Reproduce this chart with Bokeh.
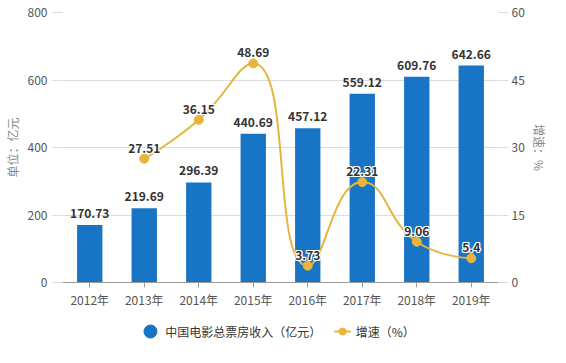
import math
from bokeh.plotting import figure
from bokeh.layouts import column
from bokeh.models import Range1d, LinearAxis, FixedTicker, ColumnDataSource
from bokeh.embed import file_html
from bokeh.resources import INLINE
from bokeh.core.properties import value

years = ["2012年", "2013年", "2014年", "2015年", "2016年", "2017年", "2018年", "2019年"]
box_office = [170.73, 219.69, 296.39, 440.69, 457.12, 559.12, 609.76, 642.66]
growth_years = [1, 2, 3, 4, 5, 6, 7]
growth = [27.51, 36.15, 48.69, 3.73, 22.31, 9.06, 5.4]
left_ticks = [0, 200, 400, 600, 800]
right_ticks = [0, 15, 30, 45, 60]
legend_labels = ["中国电影总票房收入（亿元）", "增速（%）"]

FONT = "Noto Sans CJK SC"
BAR = "#1874c4"
GOLD = "#e8b53c"

W = 550
BL, BR, BT, BB = 62, 42, 12, 26
H1 = 310
FW = W - BL - BR
FH = H1 - BT - BB

p = figure(width=W, height=H1, output_backend="svg", toolbar_location=None,
           x_range=Range1d(-0.5, 7.5), y_range=Range1d(0, 800),
           min_border_left=BL, min_border_right=BR, min_border_top=BT, min_border_bottom=BB)
p.outline_line_color = None
p.background_fill_color = "white"
p.border_fill_color = "white"
p.extra_y_ranges = {"pct": Range1d(0, 60)}

# axes
p.xaxis.ticker = FixedTicker(ticks=list(range(len(years))))
p.xaxis.major_label_overrides = {i: y for i, y in enumerate(years)}
p.xaxis.axis_line_color = "#9a9a9a"
p.xaxis.major_tick_line_color = "#9a9a9a"
p.xaxis.major_tick_out = 5
p.xaxis.major_tick_in = 0
p.xaxis.minor_tick_line_color = None
p.xaxis.major_label_standoff = 3
p.xaxis.major_label_text_font = FONT
p.xaxis.major_label_text_font_size = "12px"
p.xaxis.major_label_text_color = "#555555"
p.xgrid.grid_line_color = None

p.yaxis.ticker = FixedTicker(ticks=left_ticks)
p.yaxis.axis_line_color = None
p.yaxis.major_tick_line_color = "#dcdcdc"
p.yaxis.major_tick_out = 10
p.yaxis.major_tick_in = 0
p.yaxis.minor_tick_line_color = None
p.yaxis.major_label_standoff = 5
p.yaxis.major_label_text_font = FONT
p.yaxis.major_label_text_font_size = "12px"
p.yaxis.major_label_text_color = "#555555"
p.yaxis.axis_label = "单位：亿元"
p.yaxis.axis_label_text_font = FONT
p.yaxis.axis_label_text_font_size = "12px"
p.yaxis.axis_label_text_font_style = "normal"
p.yaxis.axis_label_text_color = "#8a8a8a"
p.yaxis.axis_label_standoff = 4
p.ygrid.ticker = FixedTicker(ticks=left_ticks)
p.ygrid.grid_line_color = "#dcdcdc"

ra = LinearAxis(y_range_name="pct", ticker=FixedTicker(ticks=right_ticks))
ra.axis_line_color = None
ra.major_tick_line_color = "#dcdcdc"
ra.major_tick_out = 10
ra.major_tick_in = 0
ra.minor_tick_line_color = None
ra.major_label_standoff = 3
ra.major_label_text_font = FONT
ra.major_label_text_font_size = "12px"
ra.major_label_text_color = "#555555"
ra.axis_label = "增速：%"
ra.axis_label_text_font = FONT
ra.axis_label_text_font_size = "12px"
ra.axis_label_text_font_style = "normal"
ra.axis_label_text_color = "#8a8a8a"
ra.axis_label_standoff = 3
p.add_layout(ra, "right")

# bars
xs = list(range(len(years)))
p.vbar(x=xs, top=box_office, width=0.465, color=BAR, line_color=None)
p.text(x=xs, y=box_office, text=[f"{v:.2f}" for v in box_office],
       text_font=value(FONT), text_font_size="12px", text_font_style="bold",
       text_color="#333333", text_align="center", text_baseline="bottom", y_offset=-7)

# smooth line (echarts-like smoothing, computed in pixel space)
sx = FW / 8.0
sy = FH / 60.0
pts = [(x * sx, y * sy) for x, y in zip(growth_years, growth)]
smooth = 0.5
n = len(pts)
segs = []
cp0 = pts[0]
for i in range(1, n):
    x, y = pts[i]
    px, py = pts[i - 1]
    if i == n - 1:
        cp1 = (x, y)
        nxt_cp0 = (x, y)
    else:
        nx, ny = pts[i + 1]
        vx, vy = nx - px, ny - py
        lp = math.hypot(x - px, y - py)
        ln = math.hypot(nx - x, ny - y)
        r = ln / (ln + lp)
        ncx = x + vx * smooth * r
        ncy = y + vy * smooth * r
        ncx = min(ncx, max(nx, x)); ncx = max(ncx, min(nx, x))
        ncy = min(ncy, max(ny, y)); ncy = max(ncy, min(ny, y))
        vx, vy = ncx - x, ncy - y
        c1x = x - vx * lp / ln
        c1y = y - vy * lp / ln
        c1x = min(c1x, max(px, x)); c1x = max(c1x, min(px, x))
        c1y = min(c1y, max(py, y)); c1y = max(c1y, min(py, y))
        vx, vy = x - c1x, y - c1y
        ncx = x + vx * ln / lp
        ncy = y + vy * ln / lp
        cp1 = (c1x, c1y)
        nxt_cp0 = (ncx, ncy)
    segs.append((pts[i - 1], cp0, cp1, pts[i]))
    cp0 = nxt_cp0

bsrc = ColumnDataSource(dict(
    x0=[s[0][0] / sx for s in segs], y0=[s[0][1] / sy for s in segs],
    cx0=[s[1][0] / sx for s in segs], cy0=[s[1][1] / sy for s in segs],
    cx1=[s[2][0] / sx for s in segs], cy1=[s[2][1] / sy for s in segs],
    x1=[s[3][0] / sx for s in segs], y1=[s[3][1] / sy for s in segs]))
p.bezier(x0="x0", y0="y0", x1="x1", y1="y1", cx0="cx0", cy0="cy0", cx1="cx1", cy1="cy1",
         source=bsrc, line_color=GOLD, line_width=2, y_range_name="pct")
p.scatter(x=growth_years, y=growth, size=9, color=GOLD, y_range_name="pct")

glabels = [f"{v:g}" for v in growth]
for dx, dy in [(-1, 0), (1, 0), (0, -1), (0, 1), (-1, -1), (1, 1), (-1, 1), (1, -1)]:
    p.text(x=growth_years, y=growth, text=glabels,
           text_font=value(FONT), text_font_size="12px", text_font_style="bold",
           text_color="white", text_align="center", text_baseline="bottom",
           x_offset=dx, y_offset=-6 + dy, y_range_name="pct")
p.text(x=growth_years, y=growth, text=glabels,
       text_font=value(FONT), text_font_size="12px", text_font_style="bold",
       text_color="#333333", text_align="center", text_baseline="bottom", y_offset=-6,
       y_range_name="pct")

# legend strip below the chart; its frame is aligned with the chart frame,
# so the x range is expressed in canvas pixels of that frame
H2 = 37
q = figure(width=W, height=H2, output_backend="svg", toolbar_location=None,
           x_range=Range1d(BL, BL + FW), y_range=Range1d(0, H2),
           x_axis_type=None, y_axis_type=None,
           min_border_left=BL, min_border_right=BR, min_border_top=0, min_border_bottom=0)
q.outline_line_color = None
q.xgrid.grid_line_color = None
q.ygrid.grid_line_color = None
q.background_fill_color = "white"
q.border_fill_color = "white"
LY = 16
q.scatter(x=[152], y=[LY], size=13, color=BAR, marker="circle")
q.segment(x0=[340], y0=[LY], x1=[357], y1=[LY], line_color=GOLD, line_width=2)
q.scatter(x=[348.5], y=[LY], size=7, color=GOLD, marker="circle")
q.text(x=[167, 362], y=[LY, LY], text=legend_labels,
       text_font=value(FONT), text_font_size="12px", text_color="#333333",
       text_align="left", text_baseline="middle")

layout = column(p, q, spacing=0)
open("out.html", "w").write(file_html(layout, INLINE))
